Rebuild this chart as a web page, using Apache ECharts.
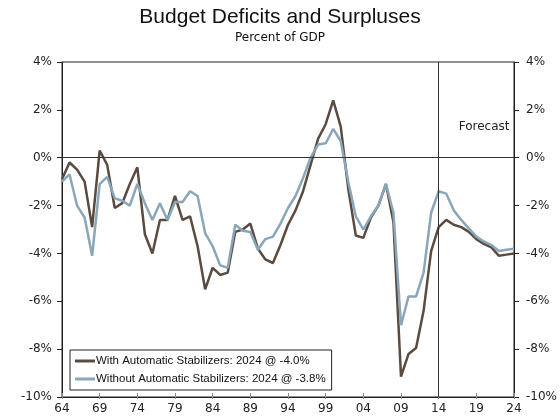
<!DOCTYPE html>
<html><head><meta charset="utf-8">
<script src="https://cdn.jsdelivr.net/npm/echarts@6/dist/echarts.min.js"></script>
<style>html,body{margin:0;padding:0;background:#fff}#c{width:560px;height:420px}</style>
</head><body><div id="c"></div>
<script>
var years = [1964,1965,1966,1967,1968,1969,1970,1971,1972,1973,1974,1975,1976,1977,1978,1979,1980,1981,1982,1983,1984,1985,1986,1987,1988,1989,1990,1991,1992,1993,1994,1995,1996,1997,1998,1999,2000,2001,2002,2003,2004,2005,2006,2007,2008,2009,2010,2011,2012,2013,2014,2015,2016,2017,2018,2019,2020,2021,2022,2023,2024];
var withStab = [-0.9,-0.2,-0.5,-1.0,-2.9,0.3,-0.3,-2.1,-1.9,-1.1,-0.4,-3.2,-4.0,-2.6,-2.6,-1.6,-2.6,-2.45,-3.7,-5.5,-4.6,-4.9,-4.8,-3.1,-3.0,-2.75,-3.8,-4.25,-4.4,-3.65,-2.8,-2.2,-1.4,-0.3,0.8,1.4,2.4,1.3,-1.3,-3.25,-3.35,-2.5,-2.0,-1.1,-2.7,-9.15,-8.2,-7.95,-6.4,-3.9,-2.9,-2.6,-2.8,-2.9,-3.1,-3.4,-3.6,-3.75,-4.1,-4.05,-4.0];
var withoutStab = [-1.0,-0.7,-2.0,-2.5,-4.1,-1.1,-0.8,-1.7,-1.8,-2.0,-1.1,-1.9,-2.6,-1.9,-2.6,-1.85,-1.85,-1.4,-1.6,-3.15,-3.7,-4.5,-4.6,-2.8,-3.05,-3.1,-3.85,-3.4,-3.3,-2.75,-2.1,-1.6,-0.85,0.0,0.55,0.6,1.2,0.7,-1.0,-2.45,-3.0,-2.45,-2.0,-1.1,-2.3,-7.0,-5.8,-5.8,-4.8,-2.3,-1.4,-1.5,-2.2,-2.6,-2.95,-3.3,-3.5,-3.65,-3.9,-3.85,-3.8];
var seriesNames = ['With Automatic Stabilizers: 2024 @ -4.0%','Without Automatic Stabilizers: 2024 @ -3.8%'];
var forecastYear = 2014;
var forecastLabel = 'Forecast';
var titleText = 'Budget Deficits and Surpluses';
var subtitleText = 'Percent of GDP';

var FONT = 'DejaVu Sans';
var FONT2 = 'Liberation Sans';
function pairs(v){ return years.map(function(y,i){ return [y, v[i]]; }); }
var chart = echarts.init(document.getElementById('c'), null, {renderer:'canvas'});
var yLabel = function(v){ return v + '%'; };
var xLabel = function(v){ return String(v).slice(2); };
chart.setOption({
  animation:false,
  backgroundColor:'#fff',
  title:[
    {text:titleText, left:'center', top:2, textStyle:{fontFamily:FONT2, fontSize:21, fontWeight:'normal', color:'#111'}},
    {text:subtitleText, left:'center', top:27, textStyle:{fontFamily:FONT, fontSize:12, fontWeight:'normal', color:'#111'}}
  ],
  grid:{left:62, right:46, top:62, bottom:23, show:true, borderColor:'#222', borderWidth:1, backgroundColor:'transparent'},
  legend:{
    left:70, top:350, orient:'vertical', itemGap:6, padding:[5,6,5,5],
    borderColor:'#222', borderWidth:1, backgroundColor:'#fff',
    icon:'rect', itemWidth:20, itemHeight:3,
    textStyle:{fontFamily:FONT2, fontSize:11.5, color:'#111', padding:[0,0,0,-4]},
    data:seriesNames
  },
  xAxis:[
    {type:'value', min:1964, max:2024, interval:5, position:'bottom',
     axisLine:{show:true, onZero:false, lineStyle:{color:'#222'}},
     axisTick:{show:true, inside:true, length:4, lineStyle:{color:'#888'}},
     axisLabel:{formatter:xLabel, fontFamily:FONT, fontSize:12, color:'#222', margin:6},
     splitLine:{show:false}},
    {type:'value', min:1964, max:2024, interval:5, position:'bottom',
     axisLine:{show:false, onZero:false},
     axisTick:{show:true, inside:false, length:2, lineStyle:{color:'#888'}},
     axisLabel:{show:false}, splitLine:{show:false}}
  ],
  yAxis:[
    {type:'value', min:-10, max:4, interval:2, position:'left',
     axisLine:{show:true, onZero:false, lineStyle:{color:'#222'}},
     axisTick:{show:true, inside:false, length:5, lineStyle:{color:'#222'}},
     axisLabel:{formatter:yLabel, fontFamily:FONT, fontSize:12, color:'#222', margin:10},
     splitLine:{show:false}},
    {type:'value', min:-10, max:4, interval:2, position:'right',
     axisLine:{show:true, onZero:false, lineStyle:{color:'#222'}},
     axisTick:{show:true, inside:false, length:5, lineStyle:{color:'#222'}},
     axisLabel:{formatter:yLabel, fontFamily:FONT, fontSize:12, color:'#222', margin:12},
     splitLine:{show:false}}
  ],
  series:[
    {name:seriesNames[1], type:'line', data:pairs(withoutStab), showSymbol:false, symbol:'none',
     lineStyle:{color:'#8aa7b9', width:2.5}, itemStyle:{color:'#8aa7b9'}, z:3},
    {name:seriesNames[0], type:'line', data:pairs(withStab), showSymbol:false, symbol:'none',
     lineStyle:{color:'#5a4b41', width:2.5}, itemStyle:{color:'#5a4b41'}, z:2,
     markLine:{silent:true, symbol:'none', label:{show:false},
       data:[
         [{coord:[1964,0]},{coord:[2024,0]}],
         [{coord:[forecastYear,-10]},{coord:[forecastYear,4]}]
       ],
       lineStyle:{color:'#333', width:1, type:'solid'}},
     markPoint:{silent:true, symbol:'rect', symbolSize:1, itemStyle:{color:'rgba(0,0,0,0)'},
       data:[{coord:[2024,1.3]}],
       label:{show:true, formatter:forecastLabel, position:'left', distance:4, fontFamily:FONT, fontSize:12, color:'#222'}}
    }
  ]
});
</script></body></html>
